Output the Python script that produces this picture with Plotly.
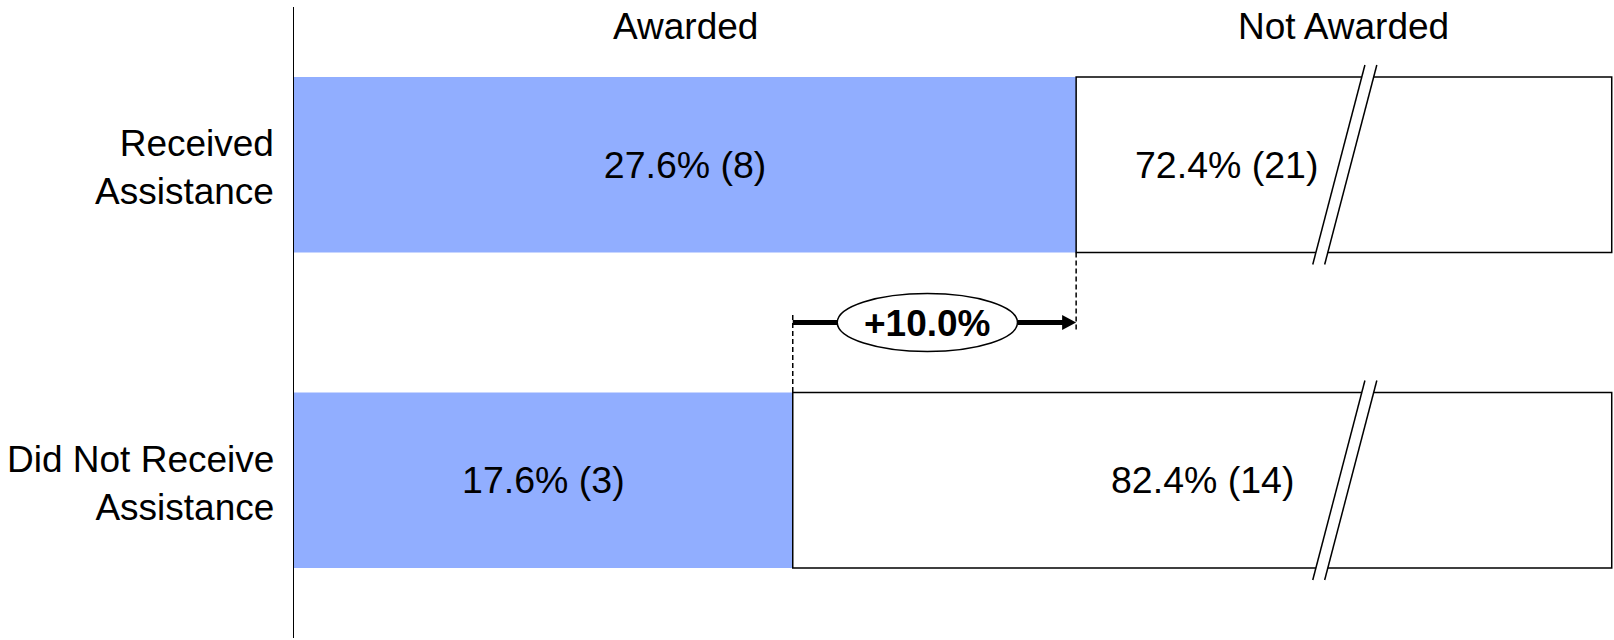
import plotly.graph_objects as go

# ---- data ----
categories = ["Received<br>Assistance", "Did Not Receive<br>Assistance"]
awarded_pct = [27.6, 17.6]
awarded_n = [8, 3]
not_awarded_pct = [72.4, 82.4]
not_awarded_n = [21, 14]
headers = ["Awarded", "Not Awarded"]

# broken-axis settings (visible limit of the value axis, break location)
AXIS_CAP = 46.5
X_MAX = 46.58
BREAK_AT = 37.08
NA_LABEL_X = [32.9, 32.05]

FONT = "Liberation Sans, Arial, sans-serif"
BLUE = "#91AEFF"
FS = 37
FS_VAL = 37.5

ypos = list(range(len(categories)))
visible_na = [AXIS_CAP - a for a in awarded_pct]

fig = go.Figure()
fig.add_trace(go.Bar(
    y=ypos, x=awarded_pct, orientation="h", width=0.557,
    marker=dict(color=BLUE, line=dict(width=0)),
    text=[f"{p:.1f}% ({n})" for p, n in zip(awarded_pct, awarded_n)],
    textposition="inside", insidetextanchor="middle",
    textfont=dict(family=FONT, size=FS_VAL, color="black"),
    constraintext="none", hoverinfo="skip", showlegend=False,
))
fig.add_trace(go.Bar(
    y=ypos, x=visible_na, base=awarded_pct, orientation="h", width=0.557,
    marker=dict(color="white", line=dict(width=1.5, color="black")),
    hoverinfo="skip", showlegend=False,
))

shapes = []
annotations = []

# category labels (left of the axis)
for i, c in enumerate(categories):
    annotations.append(dict(x=0, y=i, xref="paper", yref="y", xanchor="right",
                            xshift=-18, yshift=-3, align="right",
                            text=c, showarrow=False,
                            font=dict(family=FONT, size=FS, color="black")))

# not-awarded labels
for i, (p, n) in enumerate(zip(not_awarded_pct, not_awarded_n)):
    annotations.append(dict(x=NA_LABEL_X[i], y=i, xref="x", yref="y",
                            text=f"{p:.1f}% ({n})", showarrow=False,
                            font=dict(family=FONT, size=FS_VAL, color="black")))

# headers centred over the top bar's segments
annotations.append(dict(x=awarded_pct[0] / 2, y=-0.437, xref="x", yref="y",
                        text=headers[0], showarrow=False,
                        font=dict(family=FONT, size=FS, color="black")))
annotations.append(dict(x=(awarded_pct[0] + AXIS_CAP) / 2, y=-0.437, xref="x", yref="y",
                        text=headers[1], showarrow=False,
                        font=dict(family=FONT, size=FS, color="black")))

# axis break marks
half_h = 0.316
slant = 0.92
gap = 0.21
for i in ypos:
    top, bot = i - half_h, i + half_h
    xa_t, xa_b = BREAK_AT - gap + slant, BREAK_AT - gap - slant
    xb_t, xb_b = BREAK_AT + gap + slant, BREAK_AT + gap - slant
    shapes.append(dict(type="path", xref="x", yref="y", layer="above",
                       path=f"M {xa_t} {top} L {xb_t} {top} L {xb_b} {bot} L {xa_b} {bot} Z",
                       fillcolor="white", line=dict(width=0)))
    shapes.append(dict(type="line", xref="x", yref="y", layer="above",
                       x0=xa_t, y0=top, x1=xa_b, y1=bot, line=dict(color="black", width=1.5)))
    shapes.append(dict(type="line", xref="x", yref="y", layer="above",
                       x0=xb_t, y0=top, x1=xb_b, y1=bot, line=dict(color="black", width=1.5)))

# difference arrow
a_hi, a_lo = awarded_pct[0], awarded_pct[1]
ymid = 0.5
ell_cx = (a_hi + a_lo) / 2 - 0.25
ell_rx = 3.18
ell_ry = 0.092
head_len = 0.494
head_hh = 0.024

shapes.append(dict(type="line", xref="x", yref="y", layer="above",
                   x0=a_lo, y0=0.476, x1=a_lo, y1=1 - 0.2785,
                   line=dict(color="black", width=1.5, dash="5px,3px")))
shapes.append(dict(type="line", xref="x", yref="y", layer="above",
                   x0=a_hi, y0=0.2785, x1=a_hi, y1=0.524,
                   line=dict(color="black", width=1.5, dash="5px,3px")))
shapes.append(dict(type="line", xref="x", yref="y", layer="above",
                   x0=a_lo, y0=ymid, x1=ell_cx - ell_rx, y1=ymid,
                   line=dict(color="black", width=5)))
shapes.append(dict(type="line", xref="x", yref="y", layer="above",
                   x0=ell_cx + ell_rx, y0=ymid, x1=a_hi - head_len + 0.05, y1=ymid,
                   line=dict(color="black", width=5)))
shapes.append(dict(type="path", xref="x", yref="y", layer="above",
                   path=f"M {a_hi - head_len} {ymid - head_hh} L {a_hi} {ymid} L {a_hi - head_len} {ymid + head_hh} Z",
                   fillcolor="black", line=dict(width=0)))
shapes.append(dict(type="circle", xref="x", yref="y", layer="above",
                   x0=ell_cx - ell_rx, x1=ell_cx + ell_rx,
                   y0=ymid - ell_ry, y1=ymid + ell_ry,
                   fillcolor="white", line=dict(color="black", width=1.5)))
annotations.append(dict(x=ell_cx, y=ymid, xref="x", yref="y", yshift=-1,
                        text=f"<b>+{a_hi - a_lo:.1f}%</b>", showarrow=False,
                        font=dict(family=FONT, size=FS, color="black")))

fig.update_layout(
    width=1614, height=640,
    margin=dict(l=294, r=0, t=7, b=2),
    paper_bgcolor="white", plot_bgcolor="white",
    barmode="overlay",
    shapes=shapes, annotations=annotations,
    xaxis=dict(range=[0, X_MAX], visible=False, fixedrange=True),
    yaxis=dict(range=[1.5, -0.5], tickvals=ypos, showticklabels=False,
               showline=True, linecolor="black", linewidth=1.3,
               showgrid=False, zeroline=False, ticks=""),
    font=dict(family=FONT),
)

fig.write_html("out.html")
